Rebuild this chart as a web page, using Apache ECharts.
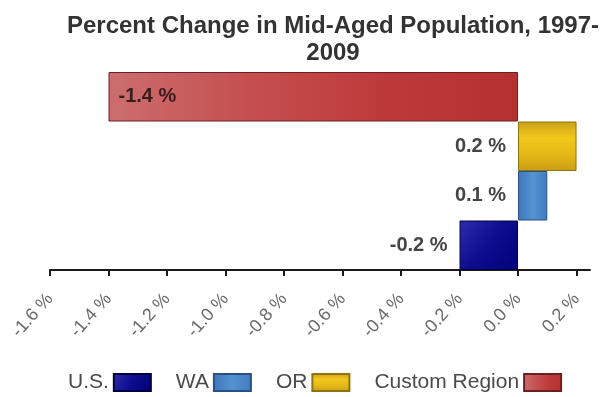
<!DOCTYPE html>
<html>
<head>
<meta charset="utf-8">
<script src="https://cdn.jsdelivr.net/npm/echarts@6/dist/echarts.min.js"></script>
<style>
  html, body { margin: 0; padding: 0; background: #fff; }
  #chart { width: 608px; height: 397px; }
</style>
</head>
<body>
<div id="chart"></div>
<script>
// Regions, bottom to top, and their percent change 1997-2009
const regions = ['U.S.', 'WA', 'OR', 'Custom Region'];
const changes = [-0.2, 0.1, 0.2, -1.4];
// Tick positions along the value axis
const tickValues = [-1.6, -1.4, -1.2, -1.0, -0.8, -0.6, -0.4, -0.2, 0.0, 0.2];

const FONT = 'Liberation Sans, Arial, sans-serif';

// gradient helper: 'h' horizontal, 'v' vertical, 'd' diagonal
const grad = (dir, stops) => {
  const end = { h: [1, 0], v: [0, 1], d: [1, 1] }[dir];
  return new echarts.graphic.LinearGradient(0, 0, end[0], end[1],
    stops.map((c, i) => ({ offset: i / (stops.length - 1), color: c })));
};

const styles = [
  { color: grad('d', ['#2c2cab', '#0c0c8e', '#02027a']), borderColor: '#000040' },
  { color: grad('h', ['#3d78bd', '#5592d0', '#3f7cc2']), borderColor: '#2a4f80' },
  { color: grad('v', ['#c9a018', '#f2c81c', '#e4b818', '#c89e14']), borderColor: '#8e7410' },
  { color: grad('h', ['#cc6e6e', '#c55050', '#be3a3a', '#b63030']), borderColor: '#6a2020' }
];

const series = regions.map((name, i) => ({
  name: name,
  type: 'bar',
  stack: 'all',
  barWidth: '100%',
  data: changes.map((v, j) => (j === i ? v : null)),
  itemStyle: Object.assign({ borderWidth: 1 }, styles[i]),
  label: {
    show: true,
    position: i === 3 ? 'insideLeft' : 'left',
    distance: i === 3 ? 10 : 12,
    formatter: p => p.value.toFixed(1) + ' %',
    fontFamily: FONT,
    fontWeight: 'bold',
    fontSize: 20,
    color: i === 3 ? '#3a1c1c' : '#454545'
  }
}));

const chart = echarts.init(document.getElementById('chart'), null, { renderer: 'canvas' });
chart.setOption({
  animation: false,
  backgroundColor: '#fff',
  title: {
    text: 'Percent Change in Mid-Aged Population, 1997-\n2009',
    left: 328,
    top: 8,
    textAlign: 'center',
    textStyle: {
      fontFamily: FONT,
      fontWeight: 'bold',
      fontSize: 24,
      lineHeight: 27,
      color: '#333'
    }
  },
  legend: {
    data: regions,
    top: 372,
    left: 68,
    width: 800,
    padding: 0,
    align: 'right',
    icon: 'rect',
    itemWidth: 37,
    itemHeight: 17,
    itemGap: 24,
    textStyle: {
      fontFamily: FONT,
      fontSize: 21,
      color: '#4a4a4a'
    }
  },
  grid: { left: 50, right: 18, top: 72, bottom: 127, containLabel: false },
  xAxis: {
    type: 'value',
    min: -1.6,
    max: 0.246,
    splitLine: { show: false },
    axisLine: { show: true, lineStyle: { color: '#1a1a1a', width: 2 } },
    axisTick: { show: true, length: 6, customValues: tickValues, lineStyle: { color: '#1a1a1a', width: 2 } },
    axisLabel: {
      customValues: tickValues,
      rotate: 48,
      margin: 26,
      formatter: v => v.toFixed(1) + ' %',
      fontFamily: FONT,
      fontSize: 18,
      color: '#6a6a6a'
    }
  },
  yAxis: {
    type: 'category',
    data: regions,
    show: false
  },
  series: series
});
</script>
</body>
</html>
